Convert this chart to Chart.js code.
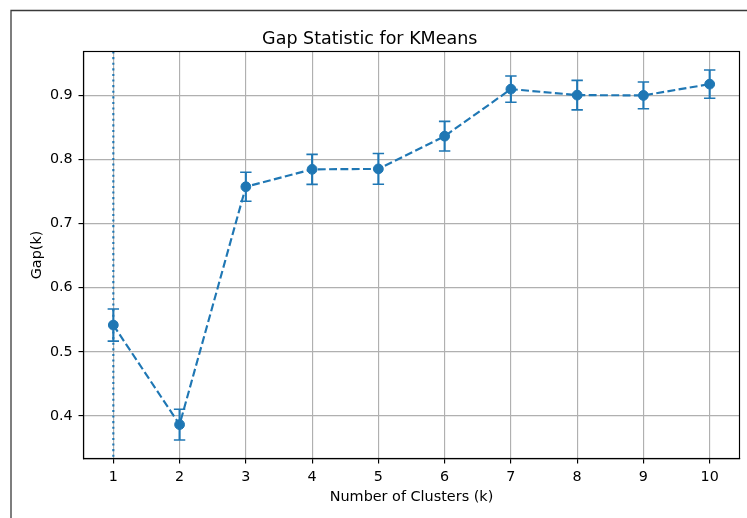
<!DOCTYPE html>
<html>
<head>
<meta charset="utf-8">
<script src="https://cdn.jsdelivr.net/npm/chart.js@4.4.1/dist/chart.umd.min.js"></script>
<style>
html,body{margin:0;padding:0;background:#fff;overflow:hidden;}
#wrap{position:relative;width:747px;height:518px;}
</style>
</head>
<body>
<div id="wrap"><canvas id="c" width="747" height="518"></canvas></div>
<script>
const clusters = [1, 2, 3, 4, 5, 6, 7, 8, 9, 10];
const gapValues = [0.5417, 0.3866, 0.7572, 0.7843, 0.7850, 0.8360, 0.9093, 0.9000, 0.8995, 0.9171];
const gapErrors = [0.0250, 0.0240, 0.0225, 0.0234, 0.0240, 0.0230, 0.0205, 0.0230, 0.0208, 0.0220];
const xTickValues = [1, 2, 3, 4, 5, 6, 7, 8, 9, 10];
const yTickValues = [0.4, 0.5, 0.6, 0.7, 0.8, 0.9];
const optimalK = 1;

const BLUE = '#1f77b4';
const FONT = 'DejaVu Sans';

const points = clusters.map((k, i) => ({x: k, y: gapValues[i]}));

const lowAll = gapValues.map((v, i) => v - gapErrors[i]);
const highAll = gapValues.map((v, i) => v + gapErrors[i]);
const dMin = Math.min(...lowAll), dMax = Math.max(...highAll);
const yMin = dMin - 0.05 * (dMax - dMin);
const yMax = dMax + 0.05 * (dMax - dMin);
const xMin = clusters[0] - 0.05 * (clusters[clusters.length - 1] - clusters[0]);
const xMax = clusters[clusters.length - 1] + 0.05 * (clusters[clusters.length - 1] - clusters[0]);

const framePlugin = {
  id: 'frame',
  beforeDraw(chart) {
    const ctx = chart.ctx;
    ctx.save();
    ctx.fillStyle = '#ffffff';
    ctx.fillRect(0, 0, chart.width, chart.height);
    ctx.strokeStyle = '#3a3a3a';
    ctx.lineWidth = 1.3;
    ctx.beginPath();
    ctx.moveTo(11, chart.height + 2);
    ctx.lineTo(11, 10.5);
    ctx.lineTo(chart.width + 2, 10.5);
    ctx.stroke();
    ctx.restore();
  }
};

const vlinePlugin = {
  id: 'vline',
  beforeDatasetsDraw(chart) {
    const {ctx, chartArea, scales} = chart;
    const x = scales.x.getPixelForValue(optimalK);
    ctx.save();
    ctx.strokeStyle = BLUE;
    ctx.lineWidth = 2.1;
    ctx.setLineDash([2.1, 3.5]);
    ctx.beginPath();
    ctx.moveTo(x, chartArea.top);
    ctx.lineTo(x, chartArea.bottom);
    ctx.stroke();
    ctx.restore();
  }
};

const errorBarPlugin = {
  id: 'errbars',
  afterDatasetsDraw(chart) {
    const {ctx, scales} = chart;
    ctx.save();
    ctx.strokeStyle = BLUE;
    clusters.forEach((k, i) => {
      const x = scales.x.getPixelForValue(k);
      const yt = scales.y.getPixelForValue(gapValues[i] + gapErrors[i]);
      const yb = scales.y.getPixelForValue(gapValues[i] - gapErrors[i]);
      ctx.lineWidth = 2.1;
      ctx.beginPath();
      ctx.moveTo(x, yt);
      ctx.lineTo(x, yb);
      ctx.stroke();
      ctx.lineWidth = 1.6;
      ctx.beginPath();
      ctx.moveTo(x - 5.7, yt);
      ctx.lineTo(x + 5.7, yt);
      ctx.moveTo(x - 5.7, yb);
      ctx.lineTo(x + 5.7, yb);
      ctx.stroke();
    });
    ctx.restore();
  },
  afterDraw(chart) {
    const {ctx, chartArea} = chart;
    ctx.save();
    ctx.strokeStyle = '#000000';
    ctx.lineWidth = 1.15;
    ctx.strokeRect(chartArea.left, chartArea.top, chartArea.right - chartArea.left, chartArea.bottom - chartArea.top);
    ctx.restore();
  }
};

new Chart(document.getElementById('c'), {
  type: 'scatter',
  data: {
    datasets: [{
      data: points,
      showLine: true,
      borderColor: BLUE,
      backgroundColor: BLUE,
      borderWidth: 2.15,
      borderDash: [7.9, 3.4],
      pointRadius: 4.9,
      pointBorderWidth: 1,
      pointBorderColor: BLUE,
      pointBackgroundColor: BLUE,
      tension: 0
    }]
  },
  options: {
    responsive: false,
    animation: false,
    events: [],
    layout: {padding: {left: 0, right: 7.5, top: 0, bottom: 0}},
    plugins: {
      legend: {display: false},
      tooltip: {enabled: false},
      title: {
        display: true,
        text: 'Gap Statistic for KMeans',
        color: '#000',
        font: {family: FONT, size: 17.5, weight: 'normal', lineHeight: 1.2},
        padding: {top: 28.5, bottom: 2}
      }
    },
    scales: {
      x: {
        type: 'linear',
        min: xMin,
        max: xMax,
        afterBuildTicks(scale) { scale.ticks = xTickValues.map(v => ({value: v})); },
        afterFit(scale) { scale.height = 59.5; },
        ticks: {
          color: '#000',
          font: {family: FONT, size: 14.3},
          padding: 5,
          maxRotation: 0,
          callback: v => String(v)
        },
        grid: {color: '#b0b0b0', lineWidth: 1.15, tickLength: 5, tickColor: '#000', tickWidth: 1.15},
        border: {display: true, color: '#000', width: 1.15},
        title: {
          display: true,
          text: 'Number of Clusters (k)',
          color: '#000',
          font: {family: FONT, size: 14.4, lineHeight: 1.2},
          padding: {top: 0, bottom: 12}
        }
      },
      y: {
        type: 'linear',
        min: yMin,
        max: yMax,
        afterBuildTicks(scale) { scale.ticks = yTickValues.map(v => ({value: v})); },
        afterFit(scale) { scale.width = 83.5; },
        ticks: {
          color: '#000',
          font: {family: FONT, size: 14.3},
          padding: 5.8,
          callback: v => v.toFixed(1)
        },
        grid: {color: '#b0b0b0', lineWidth: 1.15, tickLength: 5, tickColor: '#000', tickWidth: 1.15},
        border: {display: true, color: '#000', width: 1.15},
        title: {
          display: true,
          text: 'Gap(k)',
          color: '#000',
          font: {family: FONT, size: 14.4, lineHeight: 1.2},
          padding: {top: 28.9, bottom: 0}
        }
      }
    }
  },
  plugins: [framePlugin, vlinePlugin, errorBarPlugin]
});
</script>
</body>
</html>
